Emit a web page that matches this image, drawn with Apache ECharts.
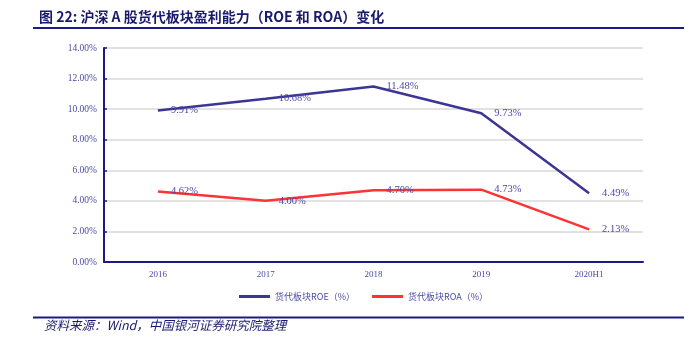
<!DOCTYPE html>
<html>
<head>
<meta charset="utf-8">
<script src="https://cdn.jsdelivr.net/npm/echarts@6/dist/echarts.min.js"></script>
<style>
html,body{margin:0;padding:0;background:#fff;}
#c{width:696px;height:341px;}
</style>
</head>
<body>
<div id="c"></div>
<script>
var categories = ['2016', '2017', '2018', '2019', '2020H1'];
var roe = [9.91, 10.68, 11.48, 9.73, 4.49];
var roa = [4.62, 4.00, 4.70, 4.73, 2.13];
var seriesNames = ['货代板块ROE（%）', '货代板块ROA（%）'];
var yTicks = [0, 2, 4, 6, 8, 10, 12, 14];

var navy = '#1c1a86';
var labelColor = '#4a4aa6';
var serif = '"Liberation Serif", "DejaVu Serif", serif';
var cjk = '"Noto Sans CJK SC", sans-serif';

var chart = echarts.init(document.getElementById('c'), null, {renderer: 'canvas'});
function mkLabel() {
  return {
    show: true, position: 'right', distance: 13,
    color: labelColor, fontFamily: serif, fontSize: 10.5,
    formatter: function (p) { return Number(p.value).toFixed(2) + '%'; }
  };
}
chart.setOption({
  animation: false,
  title: {
    text: '图 22: 沪深 A 股货代板块盈利能力（ROE 和 ROA）变化',
    left: 34, top: 5,
    textStyle: {color: '#1a1a6e', fontSize: 14, fontWeight: 'bold', fontFamily: cjk}
  },
  graphic: [
    {type: 'rect', shape: {x: 33, y: 27, width: 651, height: 2}, style: {fill: navy}, silent: true},
    {type: 'rect', shape: {x: 33, y: 316.5, width: 651, height: 2}, style: {fill: navy}, silent: true},
    {type: 'text', left: 44, top: 319,
      style: {text: '资料来源：Wind，中国银河证券研究院整理', fill: '#1a1a6e', fontSize: 12.5,
        fontStyle: 'italic', fontFamily: cjk}}
  ],
  legend: {
    left: 239, top: 292, padding: 0,
    itemWidth: 31, itemHeight: 3, itemGap: 17,
    icon: 'rect',
    textStyle: {color: labelColor, fontSize: 9, fontFamily: cjk},
    data: seriesNames
  },
  grid: {left: 104, right: 53, top: 48, bottom: 79},
  xAxis: {
    type: 'category', data: categories, boundaryGap: true,
    axisLine: {lineStyle: {color: navy, width: 2}},
    axisTick: {show: false},
    axisLabel: {color: labelColor, fontSize: 9, fontFamily: serif, margin: 8}
  },
  yAxis: {
    type: 'value', min: yTicks[0], max: yTicks[yTicks.length - 1], interval: 2,
    axisLine: {show: true, lineStyle: {color: navy, width: 2}},
    axisTick: {show: true, inside: true, length: 3, lineStyle: {color: navy, width: 1.5}},
    axisLabel: {color: labelColor, fontSize: 9.5, fontFamily: serif, margin: 7,
      formatter: function (v) { return v.toFixed(2) + '%'; }},
    splitLine: {lineStyle: {color: '#d9d9d9', width: 1.5}}
  },
  series: [
    {name: seriesNames[0], type: 'line', data: roe, symbol: 'circle', symbolSize: 0, showSymbol: true,
      lineStyle: {color: '#3d3595', width: 2.5}, itemStyle: {color: '#3d3595'}, label: mkLabel()},
    {name: seriesNames[1], type: 'line', data: roa, symbol: 'circle', symbolSize: 0, showSymbol: true,
      lineStyle: {color: '#ff3333', width: 2.5}, itemStyle: {color: '#ff3333'}, label: mkLabel()}
  ]
});
</script>
</body>
</html>
